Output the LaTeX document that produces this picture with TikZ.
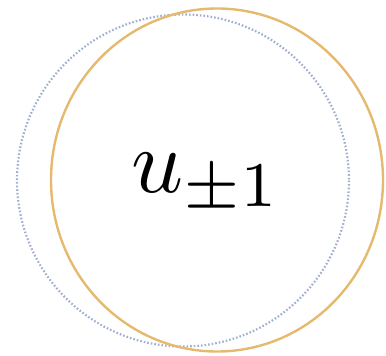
\documentclass[tikz,border=0pt]{standalone}
\definecolor{ringorange}{RGB}{230,186,110}
\definecolor{ringblue}{RGB}{160,174,208}
\tikzset{
  orangering/.style={draw=ringorange, line width=2.4pt},
  bluering/.style={draw=ringblue, line width=2.2pt, dash pattern=on 1.6pt off 2pt},
  biglabel/.style={inner sep=0pt, anchor=base, scale=9.1}
}
\begin{document}
\begin{tikzpicture}[x=1pt,y=-1pt]
\useasboundingbox (0,0) rectangle (386,356);
\draw[bluering] (183,180.5) circle (166);
\draw[orangering] (217,180) ellipse [x radius=166, y radius=171.5];
\node[biglabel] (lbl) at (206.7,192.5) {$u_{\pm1}$};
\end{tikzpicture}
\end{document}
